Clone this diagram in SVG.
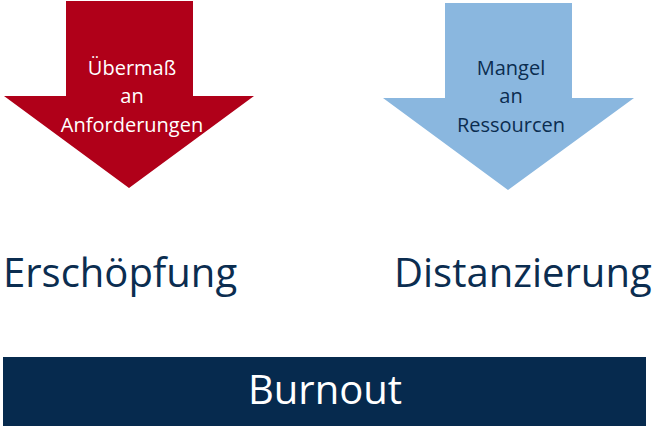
<svg xmlns="http://www.w3.org/2000/svg" width="656" height="426" viewBox="0 0 656 426">
  <style>
    .lbl { font-family: "Open Sans", "Noto Sans", sans-serif; text-anchor: middle; }
    .small { font-size: 20px; }
    .big { font-family: "Open Sans", "Noto Sans", sans-serif; font-size: 40px; fill: #0b2d50; }
  </style>
  <rect width="656" height="426" fill="#ffffff"/>

  <!-- Demands arrow -->
  <g id="demands">
    <polygon points="66,1 193,1 193,96 254,96 129,188 4,96 66,96" fill="#b00019"/>
    <text class="lbl small" fill="#ffffff" x="132" y="75">Übermaß</text>
    <text class="lbl small" fill="#ffffff" x="132" y="103">an</text>
    <text class="lbl small" fill="#ffffff" x="132" y="132">Anforderungen</text>
  </g>

  <!-- Resources arrow -->
  <g id="resources">
    <polygon points="445,3 572,3 572,98 634,98 508,190 383,98 445,98" fill="#8ab7df"/>
    <text class="lbl small" fill="#0b2d50" x="511" y="75">Mangel</text>
    <text class="lbl small" fill="#0b2d50" x="511" y="103">an</text>
    <text class="lbl small" fill="#0b2d50" x="511" y="132">Ressourcen</text>
  </g>

  <!-- Outcomes -->
  <g id="exhaustion">
    <text class="big" x="3" y="287">Erschöpfung</text>
  </g>
  <g id="distancing">
    <text class="big" x="394" y="287">Distanzierung</text>
  </g>

  <!-- Result bar -->
  <g id="burnout">
    <rect x="3" y="357" width="643" height="69" fill="#062a4e"/>
    <text class="lbl" fill="#ffffff" font-size="40" x="325" y="404">Burnout</text>
  </g>

  <g id="connectors"/>
</svg>
